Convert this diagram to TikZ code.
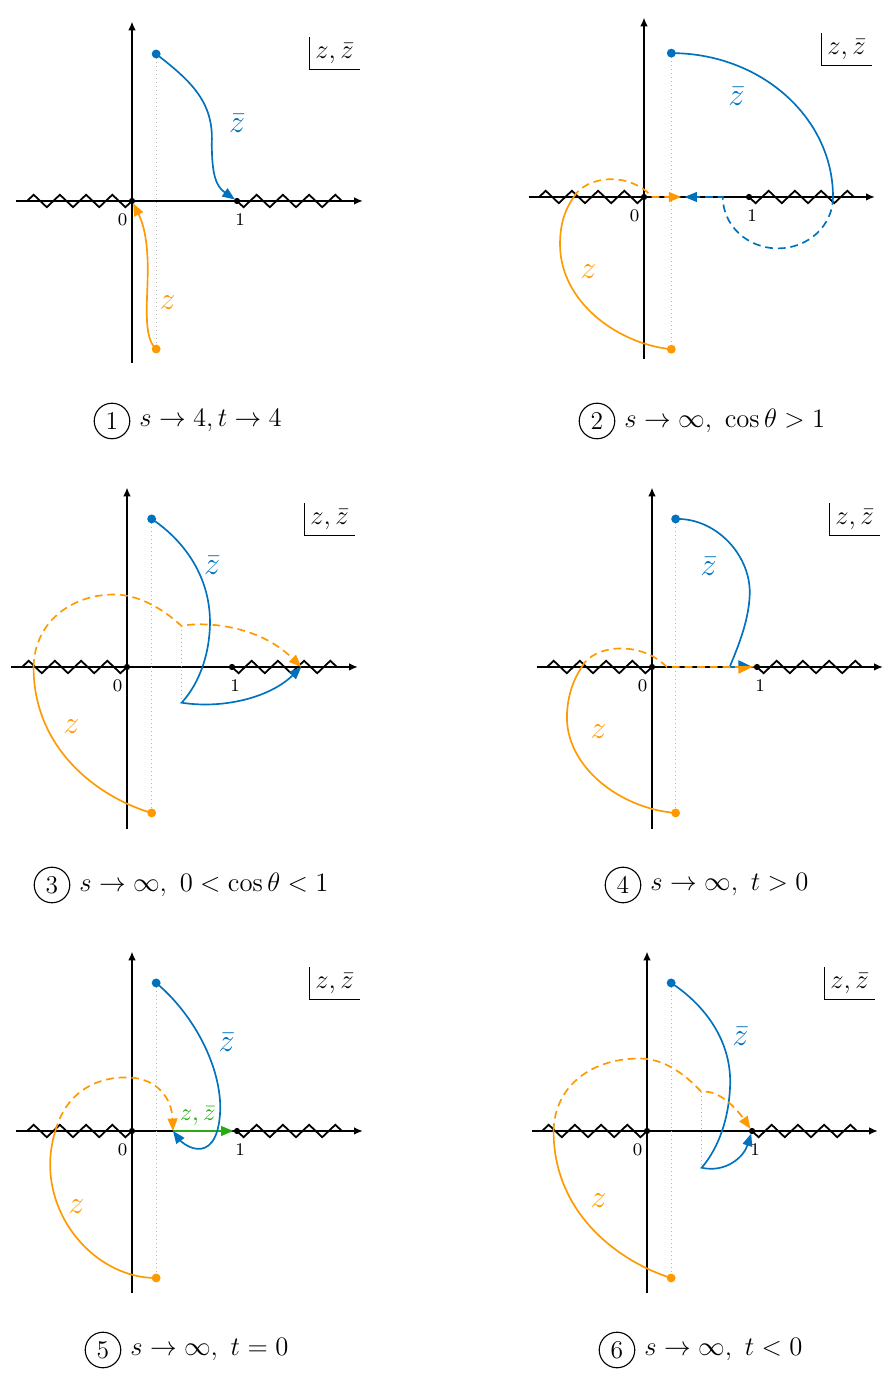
\documentclass[tikz,border=0pt]{standalone}
\usetikzlibrary{arrows.meta,decorations.pathmorphing,positioning}
\definecolor{zblue}{RGB}{0,114,189}
\definecolor{zorange}{RGB}{255,153,0}
\definecolor{zgreen}{RGB}{40,170,20}
\begin{document}
\begin{tikzpicture}[x=0.45pt, y=0.45pt,
  axis/.style={line width=0.8pt, -{Latex[length=4pt,width=3.4pt]}},
  cut/.style={line width=0.8pt, decorate, decoration={zigzag, segment length=11.8pt, amplitude=2.8pt}},
  guide/.style={gray!60, line width=0.5pt, dash pattern=on 0.5pt off 1.3pt},
  zbar/.style={zblue, line width=0.75pt},
  zz/.style={zorange, line width=0.75pt},
  zboth/.style={zgreen, line width=0.75pt},
  dsh/.style={dash pattern=on 3.5pt off 2.2pt},
  tip/.style={-{Triangle[length=5.6pt,width=4.4pt]}},
  uptip/.style={-{Triangle[harpoon,length=6.4pt,width=6pt]}},
  downtip/.style={-{Triangle[harpoon,swap,length=6.4pt,width=6pt]}},
  lbl/.style={font=\Large},
  corner/.style={font=\large},
  numlbl/.style={font=\footnotesize},
  capnum/.style={circle, draw, line width=0.5pt, minimum size=16pt, inner sep=0pt, font=\fontsize{11.5}{13}\selectfont},
  captext/.style={font=\fontsize{11.5}{13}\selectfont}]
\useasboundingbox (0,0) rectangle (889,1383);

% axes, cuts and end points of every plane
\foreach \ox/\oy/\dx/\dt/\db [count=\i] in {59.4/531.9/0.23/1.40/-1.41, 289.8/533.7/0.26/1.37/-1.45, 57.15/322.2/0.235/1.41/-1.39, 293.4/322.2/0.225/1.41/-1.39, 59.4/113.4/0.23/1.41/-1.40, 291.15/113.4/0.23/1.41/-1.40} {
\begin{scope}[shift={(\ox pt,\oy pt)}, x=47.25pt, y=47.25pt]
  \coordinate (o\i) at (0,0);
  \coordinate (u\i) at (1,0);
  \coordinate (top\i) at (\dx,\dt);
  \coordinate (bot\i) at (\dx,\db);
  \draw[cut] (o\i) -- (-1.07,0);
  \draw[cut, decoration={mirror}] (u\i) -- (2.07,0);
  \draw[axis] (-1.1,0) -- (2.2,0);
  \draw[axis] (0,-1.54) -- (0,1.71);
  \draw[guide] (top\i) -- (bot\i);
  \node[numlbl] (zero\i) at (-0.09,-0.18) {0};
  \node[numlbl] (one\i) at (1.03,-0.18) {1};
  \node[corner, anchor=south west, inner sep=2.5pt] (lab\i) at (1.69,1.25) {$z,\bar z$};
  \draw[line width=0.6pt] (lab\i.north west) |- (lab\i.south east);
\end{scope}
}

% 1
\begin{scope}[shift={(59.4pt,531.9pt)}, x=47.25pt, y=47.25pt]
  \draw[zbar, tip, shorten >=1.2pt] (top1) .. controls (0.55,1.15) and (0.78,0.95) .. (0.76,0.55) .. controls (0.76,0.25) and (0.80,0.14) .. (u1);
  \draw[zz, tip, shorten >=1.2pt] (bot1) .. controls (0.10,-1.30) and (0.15,-0.95) .. (0.15,-0.65) .. controls (0.15,-0.35) and (0.10,-0.2) .. (o1);
  \node[lbl, zblue] (zb1) at (1.0,0.74) {$\bar z$};
  \node[lbl, zorange] (zo1) at (0.34,-0.97) {$z$};
\end{scope}

% 2
\begin{scope}[shift={(289.8pt,533.7pt)}, x=47.25pt, y=47.25pt]
  \coordinate (turn2) at (1.80,0);
  \coordinate (cross2) at (-0.67,0);
  \draw[zbar] (top2) arc[start angle=90, end angle=0, x radius=1.54, y radius=1.37];
  \draw[zbar, dsh, tip] (turn2) arc[start angle=0, end angle=-180, x radius=0.525, y radius=0.49] -- (0.385,0);
  \draw[zz] (bot2) .. controls (-0.25,-1.40) and (-0.80,-1.00) .. (-0.80,-0.45) .. controls (-0.80,-0.2) and (-0.72,-0.08) .. (cross2);
  \draw[zz, dsh, tip] (cross2) .. controls (-0.55,0.2) and (-0.15,0.25) .. (0.08,0) -- (0.355,0);
  \node[lbl, zblue] (zb2) at (0.88,0.96) {$\bar z$};
  \node[lbl, zorange] (zo2) at (-0.53,-0.71) {$z$};
\end{scope}

% 3
\begin{scope}[shift={(57.15pt,322.2pt)}, x=47.25pt, y=47.25pt]
  \coordinate (cusp3) at (0.52,-0.34);
  \coordinate (kink3) at (0.52,0.39);
  \coordinate (cross3) at (-0.89,0);
  \coordinate (end3) at (1.66,0);
  \draw[guide] (kink3) -- (cusp3);
  \draw[zbar, tip] (top3) .. controls (0.55,1.2) and (0.80,0.85) .. (0.79,0.40) .. controls (0.78,0.05) and (0.65,-0.2) .. (cusp3) .. controls (0.9,-0.40) and (1.35,-0.30) .. (end3);
  \draw[zz] (bot3) .. controls (-0.25,-1.25) and (-0.89,-0.8) .. (cross3);
  \draw[zz, dsh, tip] (cross3) .. controls (-0.88,0.45) and (-0.5,0.70) .. (-0.10,0.69) .. controls (0.15,0.68) and (0.38,0.52) .. (kink3) .. controls (0.62,0.42) and (1.2,0.45) .. (end3);
  \node[lbl, zblue] (zb3) at (0.81,0.97) {$\bar z$};
  \node[lbl, zorange] (zo3) at (-0.53,-0.57) {$z$};
\end{scope}

% 4
\begin{scope}[shift={(293.4pt,322.2pt)}, x=47.25pt, y=47.25pt]
  \coordinate (cross4) at (-0.67,0);
  \draw[zbar, uptip, shorten >=1.2pt] (top4) .. controls (0.62,1.42) and (0.95,1.05) .. (0.93,0.68) .. controls (0.92,0.42) and (0.8,0.15) .. (0.74,0) -- (u4);
  \draw[zz] (bot4) .. controls (-0.30,-1.35) and (-0.83,-0.95) .. (-0.81,-0.45) .. controls (-0.80,-0.22) and (-0.72,-0.08) .. (cross4);
  \draw[zz, dsh, downtip, shorten >=1.2pt] (cross4) .. controls (-0.55,0.22) and (-0.1,0.25) .. (0.14,0) -- (u4);
  \node[lbl, zblue] (zb4) at (0.54,0.96) {$\bar z$};
  \node[lbl, zorange] (zo4) at (-0.51,-0.62) {$z$};
\end{scope}

% 5
\begin{scope}[shift={(59.4pt,113.4pt)}, x=47.25pt, y=47.25pt]
  \coordinate (meet5) at (0.39,0);
  \coordinate (cross5) at (-0.73,0);
  \draw[zz] (bot5) .. controls (-0.4,-1.4) and (-0.95,-0.7) .. (cross5);
  \draw[zz, dsh, tip] (cross5) .. controls (-0.62,0.40) and (-0.30,0.52) .. (-0.03,0.51) .. controls (0.25,0.50) and (0.38,0.30) .. (meet5);
  \draw[zboth, tip, shorten >=1.6pt] (meet5) -- (u5);
  \draw[zbar, tip] (top5) .. controls (0.6,1.1) and (0.85,0.6) .. (0.84,0.2) .. controls (0.83,-0.1) and (0.72,-0.18) .. (0.62,-0.17) .. controls (0.52,-0.16) and (0.45,-0.08) .. (meet5);
  \node[zgreen, font=\fontsize{11}{13}\selectfont] (zg5) at (0.625,0.14) {$z,\bar z$};
  \node[lbl, zblue] (zb5) at (0.90,0.84) {$\bar z$};
  \node[lbl, zorange] (zo5) at (-0.53,-0.72) {$z$};
\end{scope}

% 6
\begin{scope}[shift={(291.15pt,113.4pt)}, x=47.25pt, y=47.25pt]
  \coordinate (cusp6) at (0.52,-0.35);
  \coordinate (kink6) at (0.52,0.37);
  \coordinate (cross6) at (-0.89,0);
  \draw[guide] (kink6) -- (cusp6);
  \draw[zbar, tip, shorten >=1.2pt] (top6) .. controls (0.55,1.2) and (0.82,0.85) .. (0.79,0.40) .. controls (0.77,0.05) and (0.65,-0.2) .. (cusp6) .. controls (0.75,-0.40) and (0.92,-0.25) .. (u6);
  \draw[zz] (bot6) .. controls (-0.25,-1.25) and (-0.89,-0.8) .. (cross6);
  \draw[zz, dsh, tip, shorten >=1.2pt] (cross6) .. controls (-0.88,0.45) and (-0.5,0.70) .. (-0.05,0.69) .. controls (0.20,0.68) and (0.40,0.50) .. (kink6) .. controls (0.65,0.40) and (0.82,0.26) .. (u6);
  \node[lbl, zblue] (zb6) at (0.89,0.90) {$\bar z$};
  \node[lbl, zorange] (zo6) at (-0.46,-0.66) {$z$};
\end{scope}

% points on top
\foreach \i in {1,...,6} {
  \fill (o\i) circle[radius=1.4pt];
  \fill (u\i) circle[radius=1.4pt];
  \fill[zblue] (top\i) circle[radius=2pt];
  \fill[zorange] (bot\i) circle[radius=2pt];
}

% captions
\node[capnum] (n1) at (112,962) {1};
\node[captext, right=0.5pt of n1] (cap1) {$s\to4,t\to4$};
\node[capnum] (n2) at (597,962) {2};
\node[captext, right=0.5pt of n2] (cap2) {$s\to\infty,\ \cos\theta>1$};
\node[capnum] (n3) at (52,498) {3};
\node[captext, right=0.5pt of n3] (cap3) {$s\to\infty,\ 0<\cos\theta<1$};
\node[capnum] (n4) at (623,498) {4};
\node[captext, right=0.5pt of n4] (cap4) {$s\to\infty,\ t>0$};
\node[capnum] (n5) at (103,33) {5};
\node[captext, right=0.5pt of n5] (cap5) {$s\to\infty,\ t=0$};
\node[capnum] (n6) at (617,33) {6};
\node[captext, right=0.5pt of n6] (cap6) {$s\to\infty,\ t<0$};
\end{tikzpicture}
\end{document}
